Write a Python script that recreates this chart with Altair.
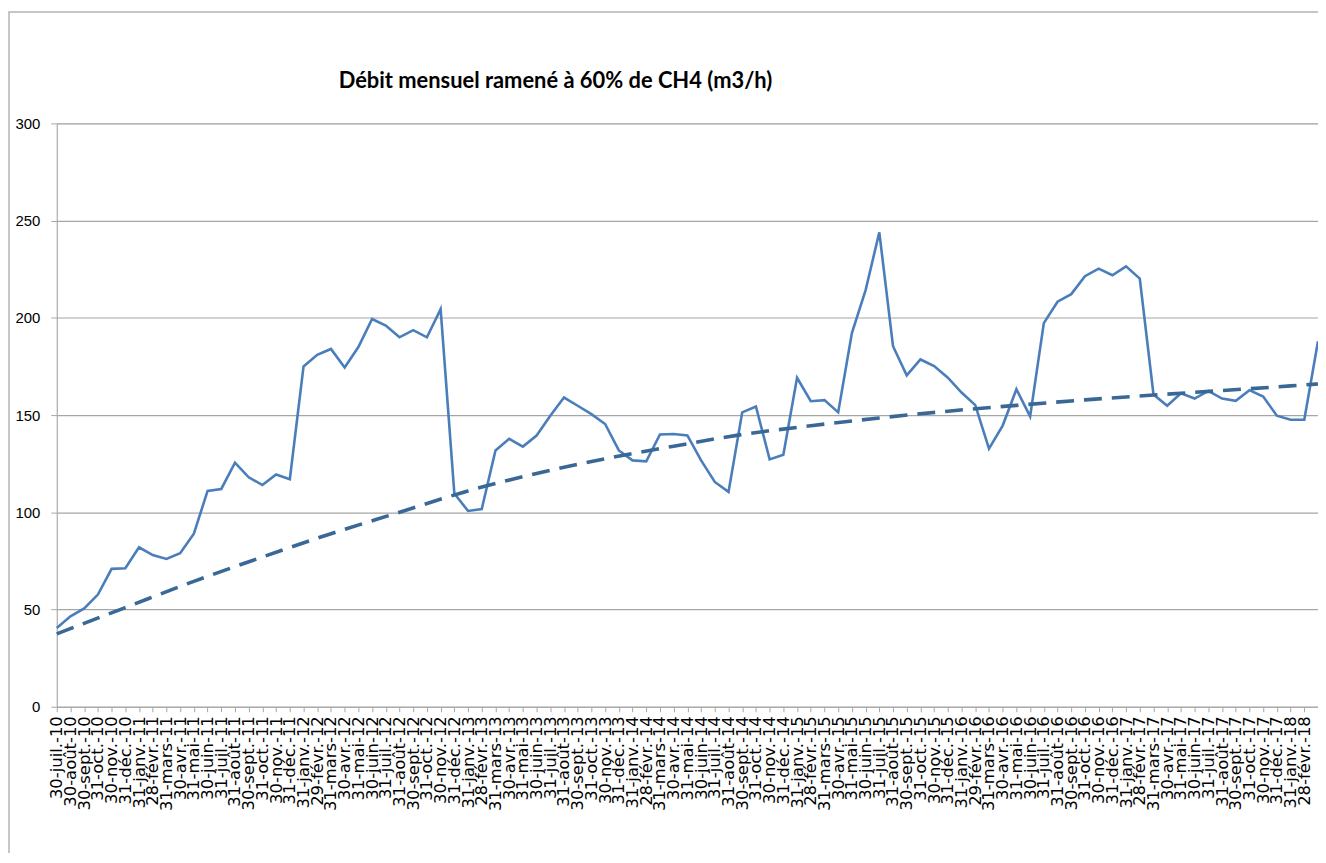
import altair as alt
import pandas as pd

title_text = "Débit mensuel ramené à 60% de CH4 (m3/h)"

labels = [
    "30-juil.-10", "30-août-10", "30-sept.-10", "31-oct.-10", "30-nov.-10", "31-déc.-10",
    "31-janv.-11", "28-févr.-11", "31-mars-11", "30-avr.-11", "31-mai-11", "30-juin-11",
    "31-juil.-11", "31-août-11", "30-sept.-11", "31-oct.-11", "30-nov.-11", "31-déc.-11",
    "31-janv.-12", "29-févr.-12", "31-mars-12", "30-avr.-12", "31-mai-12", "30-juin-12",
    "31-juil.-12", "31-août-12", "30-sept.-12", "31-oct.-12", "30-nov.-12", "31-déc.-12",
    "31-janv.-13", "28-févr.-13", "31-mars-13", "30-avr.-13", "31-mai-13", "30-juin-13",
    "31-juil.-13", "31-août-13", "30-sept.-13", "31-oct.-13", "30-nov.-13", "31-déc.-13",
    "31-janv.-14", "28-févr.-14", "31-mars-14", "30-avr.-14", "31-mai-14", "30-juin-14",
    "31-juil.-14", "31-août-14", "30-sept.-14", "31-oct.-14", "30-nov.-14", "31-déc.-14",
    "31-janv.-15", "28-févr.-15", "31-mars-15", "30-avr.-15", "31-mai-15", "30-juin-15",
    "31-juil.-15", "31-août-15", "30-sept.-15", "31-oct.-15", "30-nov.-15", "31-déc.-15",
    "31-janv.-16", "29-févr.-16", "31-mars-16", "30-avr.-16", "31-mai-16", "30-juin-16",
    "31-juil.-16", "31-août-16", "30-sept.-16", "31-oct.-16", "30-nov.-16", "31-déc.-16",
    "31-janv.-17", "28-févr.-17", "31-mars-17", "30-avr.-17", "31-mai-17", "30-juin-17",
    "31-juil.-17", "31-août-17", "30-sept.-17", "31-oct.-17", "30-nov.-17", "31-déc.-17",
    "31-janv.-18", "28-févr.-18", "31-mars-18",
]

debit = [
    40.5, 46.5, 50.6, 57.7, 70.9, 71.2, 82.0, 78.0, 76.0, 79.0,
    89.0, 111.0, 112.0, 125.5, 118.0, 114.0, 119.4, 117.0, 175.0, 181.0,
    184.0, 174.5, 185.0, 199.4, 196.0, 190.0, 193.7, 190.0, 204.5, 109.7,
    100.7, 101.7, 131.8, 137.8, 133.8, 139.5, 149.7, 159.0, 154.8, 150.5,
    145.4, 131.8, 126.7, 126.2, 140.0, 140.3, 139.5, 126.7, 115.6, 110.5,
    151.4, 154.4, 127.2, 129.6, 169.2, 157.1, 157.7, 151.4, 192.2, 214.3,
    244.0, 185.4, 170.4, 178.6, 175.2, 169.2, 161.6, 155.1, 132.7, 144.6,
    163.3, 149.3, 197.3, 208.3, 212.2, 221.4, 225.3, 221.9, 226.5, 220.2,
    160.6, 154.8, 161.2, 158.5, 162.4, 158.5, 157.3, 162.8, 159.5, 149.7,
    147.6, 147.6, 188.0,
]

trend_idx = [0, 5, 10, 15, 20, 25, 30, 35, 40, 45, 50, 55, 60, 65, 70, 75, 80, 85, 90, 92]
trend_vals = [37.5, 51.0, 64.5, 77.0, 89.0, 100.0, 111.0, 120.0, 127.5, 134.0,
              140.0, 144.5, 148.5, 152.0, 155.0, 157.8, 160.3, 162.6, 165.0, 166.0]

y_ticks = [0, 50, 100, 150, 200, 250, 300]

df = pd.DataFrame({"date": labels, "debit": debit})
df_trend = pd.DataFrame({"date": [labels[i] for i in trend_idx], "tendance": trend_vals, "ordre": trend_idx})

GRID = "#a6a6a6"

x_enc = alt.X(
    "date:O",
    sort=labels,
    scale=alt.Scale(domain=labels, padding=0),
    axis=alt.Axis(
        title=None,
        labelAngle=-90,
        labelFont="DejaVu Sans",
        labelFontSize=16.5,
        labelColor="#000000",
        labelPadding=4,
        labelOverlap=False,
        labelBound=False,
        labelExpr="datum.value == '31-mars-18' ? '' : datum.label",
        tickSize=5,
        tickColor=GRID,
        domainColor=GRID,
        grid=False,
    ),
)

y_scale = alt.Scale(domain=[0, 300], nice=False)
y_axis = alt.Axis(
    title=None,
    values=y_ticks,
    labelFont="Liberation Sans",
    labelFontSize=15,
    labelColor="#000000",
    labelPadding=11,
    tickSize=6,
    tickColor=GRID,
    domainColor=GRID,
    gridColor=GRID,
    gridWidth=1.2,
)

border = alt.Chart(pd.DataFrame({"a": [0]})).mark_rect(
    fillOpacity=0, stroke="#b4b4b4", strokeWidth=1.5
).encode(
    x=alt.value(-48), x2=alt.value(1400), y=alt.value(-112), y2=alt.value(900)
)

title_mark = alt.Chart(pd.DataFrame({"t": [title_text]})).mark_text(
    font="Lato", fontSize=22, fontWeight="bold", color="#000000",
    align="center", baseline="alphabetic"
).encode(
    text="t:N", x=alt.value(501), y=alt.value(-36)
)

line = alt.Chart(df).mark_line(color="#4a7ebb", strokeWidth=2.6).encode(
    x=x_enc,
    y=alt.Y("debit:Q", scale=y_scale, axis=y_axis),
)

trend = alt.Chart(df_trend).mark_line(
    color="#3a6896", strokeWidth=3.6, strokeDash=[18, 10], interpolate="monotone"
).encode(
    x=alt.X("date:O", sort=labels, scale=alt.Scale(domain=labels, padding=0)),
    y=alt.Y("tendance:Q", scale=y_scale),
    order="ordre:Q",
)

chart = alt.layer(border, title_mark, line, trend).properties(
    width=1267,
    height=586,
    autosize=alt.AutoSizeParams(type="none"),
    padding={"left": 49, "top": 114, "right": 0, "bottom": 145},
).configure_view(stroke=None).configure(background="white")

chart.save("out.html", embed_options={"renderer": "svg", "actions": False})
